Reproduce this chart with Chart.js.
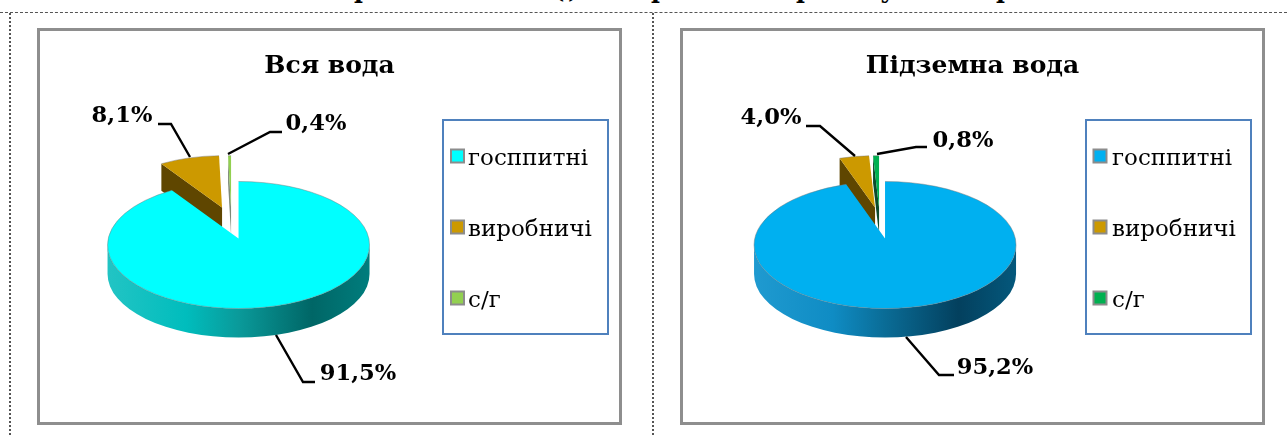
<!DOCTYPE html>
<html lang="uk"><head><meta charset="utf-8">
<script src="https://cdn.jsdelivr.net/npm/chart.js@4"></script>
<style>
html,body{margin:0;padding:0;background:#fff;width:1287px;height:435px;overflow:hidden}
.panel{position:absolute;top:28px;height:397px;box-sizing:border-box;border:3px solid #8e8e8e;background:#fff}
.panel canvas{display:block}
#p1{left:37px;width:585px}
#p2{left:680px;width:585px}
.dash{position:absolute;left:0;top:12px;width:1287px;border-top:1px dashed #555}
.dot{position:absolute;top:13px;height:422px;border-left:2px dotted #555}
.head{position:absolute;left:0;top:0;width:1287px;height:5px;overflow:hidden}
.head span{position:absolute;top:-24px;font:bold 24px/28px "DejaVu Serif";color:#000}
</style></head><body>
<div class="head" id="head"></div>
<div class="dash"></div>
<div class="dot" style="left:9px"></div>
<div class="dot" style="left:652px"></div>
<div class="panel" id="p1"><canvas id="c1" width="579" height="391"></canvas></div>
<div class="panel" id="p2"><canvas id="c2" width="579" height="391"></canvas></div>
<script>
// ---- data ----
const categories = ['госппитні', 'виробничі', 'с/г'];
const titleAll = 'Вся вода';
const titleGround = 'Підземна вода';
const valuesAll = [91.5, 8.1, 0.4];
const valuesGround = [95.2, 4.0, 0.8];
const colorsAll = ['#00FFFF', '#CC9900', '#92D050'];
const colorsGround = ['#00B0F0', '#CC9900', '#00B050'];
const cutWallsAll = ['#006a6a', '#5f4600', '#7f8a78'];
const cutWallsGround = ['#004060', '#5f4600', '#0b4a2c'];
const sideStopsAll = ['#22c4c4', '#00bdbd', '#0a9a9a', '#006666', '#007d7d'];
const sideStopsGround = ['#1f9ad0', '#0f8cc4', '#0a6c96', '#03405e', '#04587c'];
const headLetters = [['р',354],['(',553],[')',568],['р',651],['р',796],['у',880],['р',996]];

// ---- layout ----
const TILT = 0.485, LIFT = 6.5, DEPTH = 29, PIECE_SCALE = 0.91;
const LEGEND_PAD = 48;
const shiftsAll = [[0,0],[-16.5,-31.5],[-7.5,-31.5]];
const shiftsGround = [[0,0],[-10,-31.5],[-6,-31.5]];
const originAll = [40,31], originGround = [683,31];
const labelsAll = [
  {at:[358,374], line:[[276,335],[303,382],[315,382]]},
  {at:[122,116], line:[[158,124],[171,124],[190,157]]},
  {at:[316,124], line:[[282,132],[270,132],[228,154]]}];
const labelsGround = [
  {at:[995,368], line:[[906,337],[939,375],[954,375]]},
  {at:[771,118], line:[[806,126],[820,126],[855,156]]},
  {at:[963,141], line:[[927,147],[916,147],[877,154]]}];

// ---- 3D pie built on the library's arc geometry ----
const PieController = Chart.registry.getController('pie');
const ArcElement = Chart.registry.getElement('arc');

class Arc3D extends ArcElement {
  draw(ctx) {
    const {x, y, startAngle:a0, endAngle:a1, outerRadius:R} = this.getProps(['x','y','startAngle','endAngle','outerRadius']);
    const i = this.sliceIndex, look = this.look, main = i === 0;
    const s = main ? 1 : PIECE_SCALE;
    const cx = x + look.shifts[i][0], cy = y + look.shifts[i][1];
    const rx = R * s, ry = R * TILT * s, d = DEPTH * (main ? 1 : 0.93);
    const ax = cx, ay = cy - LIFT * s;
    ctx.save();
    // cut face of the pulled-out pieces
    if (!main) {
      const px = cx + rx * Math.cos(a0), py = cy + ry * Math.sin(a0);
      ctx.beginPath();
      ctx.moveTo(px, py); ctx.lineTo(ax, ay); ctx.lineTo(ax, ay + d); ctx.lineTo(px, py + d); ctx.closePath();
      ctx.fillStyle = look.cutWalls[i]; ctx.fill();
    }
    // front side of the disc
    const w0 = Math.max(a0, 0), w1 = Math.min(a1, Math.PI);
    if (w1 > w0) {
      const g = ctx.createLinearGradient(cx - rx, 0, cx + rx, 0);
      [0, .3, .5, .78, 1].forEach((p, k) => g.addColorStop(p, look.sideStops[k]));
      ctx.beginPath();
      ctx.ellipse(cx, cy, rx, ry, 0, w0, w1);
      ctx.ellipse(cx, cy + d, rx, ry, 0, w1, w0, true);
      ctx.closePath();
      ctx.fillStyle = g; ctx.fill();
    }
    // top face
    ctx.beginPath();
    ctx.moveTo(ax, ay);
    ctx.ellipse(cx, cy, rx, ry, 0, a0, a1);
    ctx.closePath();
    ctx.fillStyle = this.options.backgroundColor; ctx.fill();
    ctx.strokeStyle = 'rgba(120,120,120,.45)'; ctx.lineWidth = 1;
    ctx.beginPath(); ctx.ellipse(cx, cy, rx, ry, 0, a0, a1); ctx.stroke();
    ctx.restore();
  }
}
Arc3D.id = 'arc3d';

class Pie3DController extends PieController {
  draw() {
    const els = this._cachedMeta.data, look = this.getDataset().look;
    for (let i = els.length - 1; i >= 0; i--) {   // far pieces first
      els[i].sliceIndex = i; els[i].look = look;
      els[i].draw(this.chart.ctx, this.chart.chartArea);
    }
  }
}
Pie3DController.id = 'pie3d';
Pie3DController.defaults = {dataElementType: 'arc3d'};
Chart.register(Arc3D, Pie3DController);

const labelFont = 'bold 22.6px "DejaVu Serif"';
const fmt = v => v.toFixed(1).replace('.', ',') + '%';

const decor = {
  id: 'decor',
  afterLayout(chart) {
    const o = chart.config.options.look, lg = chart.legend, tb = chart.titleBlock;
    const w = lg.width, h = lg.height;
    lg.left = o.legendLeft; lg.right = lg.left + w;
    lg.top = o.legendTop; lg.bottom = lg.top + h;
    tb.left = 0; tb.right = chart.width; tb.width = chart.width;
  },
  beforeDraw(chart) {
    const o = chart.config.options.look, c = chart.ctx;
    c.save(); c.strokeStyle = '#4F81BD'; c.lineWidth = 2;
    c.strokeRect(o.box[0], o.box[1], o.box[2], o.box[3]);
    c.restore();
  },
  afterDraw(chart) {
    const o = chart.config.options.look, c = chart.ctx, ds = chart.data.datasets[0], vals = ds.data;
    c.save();
    // legend swatches
    ds.backgroundColor.forEach((col, i) => {
      const X = o.swatchX - o.origin[0] - 6.5, Y = 156 - o.origin[1] + i * 71 - 6.5;
      c.fillStyle = col; c.fillRect(X, Y, 13, 13);
      c.strokeStyle = '#8c8c8c'; c.lineWidth = 2; c.strokeRect(X, Y, 13, 13);
    });
    c.strokeStyle = '#000'; c.lineWidth = 2.4; c.fillStyle = '#000';
    c.font = labelFont; c.textAlign = 'center'; c.textBaseline = 'middle';
    o.labels.forEach((l, i) => {
      c.beginPath();
      l.line.forEach((p, k) => { const X = p[0]-o.origin[0], Y = p[1]-o.origin[1]; k ? c.lineTo(X,Y) : c.moveTo(X,Y); });
      c.stroke();
      c.fillText(fmt(vals[i]), l.at[0]-o.origin[0], l.at[1]-o.origin[1]);
    });
    c.restore();
  }
};

function build(id, title, values, colors, cutWalls, sideStops, shifts, origin, labels, padLeft, boxPage, swatchX, textStart) {
  new Chart(document.getElementById(id), {
    type: 'pie3d',
    plugins: [decor],
    data: {labels: categories, datasets: [{data: values, backgroundColor: colors, radius: 131, look: {shifts, cutWalls, sideStops}}]},
    options: {
      responsive: false, animation: false, events: [],
      look: {origin, labels, swatchX,
        box: [boxPage[0]-origin[0], boxPage[1]-origin[1], boxPage[2], boxPage[3]],
        legendLeft: textStart - 16 - origin[0] - LEGEND_PAD,
        legendTop: 159 - 11.5 - LEGEND_PAD - origin[1]},
      layout: {padding: {left: padLeft, bottom: 13}},
      plugins: {
        tooltip: {enabled: false},
        title: {display: true, text: title, color: '#000', font: {family: '"DejaVu Serif"', size: 25, weight: 'bold'}, padding: {top: 20, bottom: 0}},
        legend: {
          display: true, position: 'right', align: 'start',
          labels: {
            padding: LEGEND_PAD, boxWidth: 4.5, boxHeight: 12, color: '#000',
            font: {family: '"DejaVu Serif"', size: 23},
            generateLabels: ch => ch.data.labels.map((t, i) => ({text: t, fillStyle: 'rgba(0,0,0,0)', strokeStyle: 'rgba(0,0,0,0)', lineWidth: 0, index: i}))
          }
        }
      }
    }
  });
}
build('c1', titleAll, valuesAll, colorsAll, cutWallsAll, sideStopsAll, shiftsAll, originAll, labelsAll, 16, [443,120,165,214], 457.5, 468);
build('c2', titleGround, valuesGround, colorsGround, cutWallsGround, sideStopsGround, shiftsGround, originGround, labelsGround, 23, [1086,120,165,214], 1100, 1112);

const head = document.getElementById('head');
headLetters.forEach(([ch, x]) => { const s = document.createElement('span'); s.textContent = ch; s.style.left = x + 'px'; head.appendChild(s); });
</script></body></html>
